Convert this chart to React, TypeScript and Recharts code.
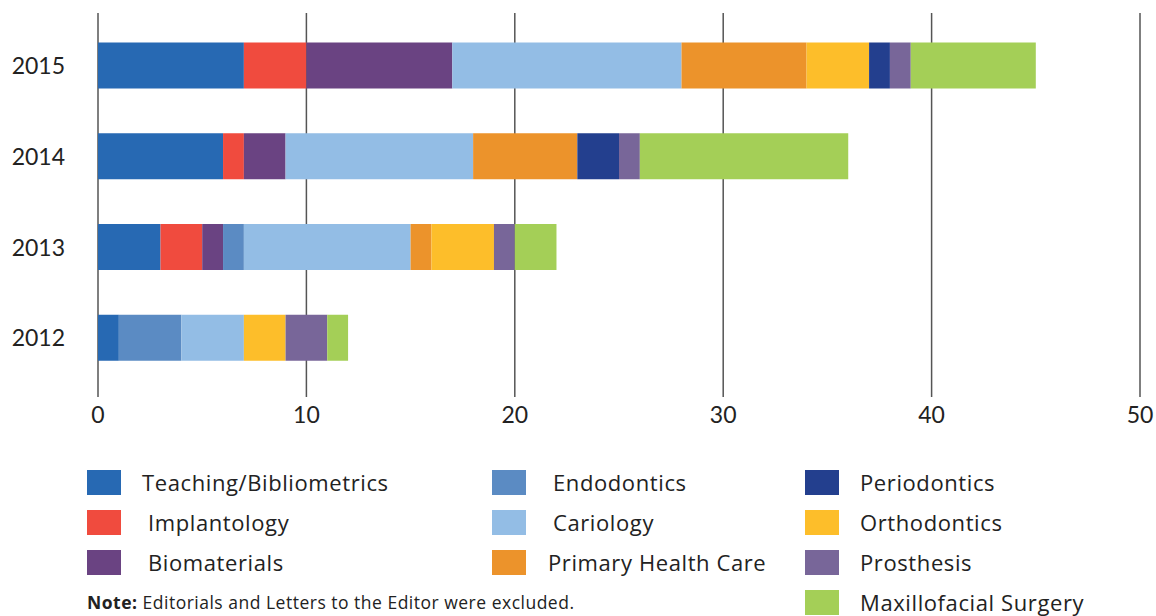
import { BarChart, Bar, XAxis, YAxis, CartesianGrid } from 'recharts'

const YEARS = ['2015', '2014', '2013', '2012']

// values per year, same order as YEARS
const TEACHING = [7, 6, 3, 1]
const IMPLANTOLOGY = [3, 1, 2, 0]
const BIOMATERIALS = [7, 2, 1, 0]
const ENDODONTICS = [0, 0, 1, 3]
const CARIOLOGY = [11, 9, 8, 3]
const PRIMARY_CARE = [6, 5, 1, 0]
const ORTHODONTICS = [3, 0, 3, 2]
const PERIODONTICS = [1, 2, 0, 0]
const PROSTHESIS = [1, 1, 1, 2]
const MAXILLOFACIAL = [6, 10, 2, 1]

const X_TICKS = [0, 10, 20, 30, 40, 50]

const SERIES = [
  { key: 'teaching', name: 'Teaching/Bibliometrics', values: TEACHING, color: '#2769B3' },
  { key: 'implantology', name: 'Implantology', values: IMPLANTOLOGY, color: '#F04B3E' },
  { key: 'biomaterials', name: 'Biomaterials', values: BIOMATERIALS, color: '#6A4382' },
  { key: 'endodontics', name: 'Endodontics', values: ENDODONTICS, color: '#5B8BC3' },
  { key: 'cariology', name: 'Cariology', values: CARIOLOGY, color: '#93BDE5' },
  { key: 'primary', name: 'Primary Health Care', values: PRIMARY_CARE, color: '#EC932B' },
  { key: 'orthodontics', name: 'Orthodontics', values: ORTHODONTICS, color: '#FDBE2A' },
  { key: 'periodontics', name: 'Periodontics', values: PERIODONTICS, color: '#233F8E' },
  { key: 'prosthesis', name: 'Prosthesis', values: PROSTHESIS, color: '#786699' },
  { key: 'maxillofacial', name: 'Maxillofacial Surgery', values: MAXILLOFACIAL, color: '#A4CF57' },
]

// legend columns as laid out in the figure
const LEGEND_COLUMNS = [
  { left: 87, textLeft: [142, 148, 148], keys: ['teaching', 'implantology', 'biomaterials'] },
  { left: 492, textLeft: [553, 553, 548], keys: ['endodontics', 'cariology', 'primary'] },
  { left: 805, textLeft: [860, 860, 860, 860], keys: ['periodontics', 'orthodontics', 'prosthesis', 'maxillofacial'] },
]

const data = YEARS.map((year, i) => {
  const row: Record<string, string | number> = { year }
  SERIES.forEach((s) => {
    row[s.key] = s.values[i]
  })
  return row
})

const FONT = 'Lato, "Open Sans", sans-serif'
const TEXT_FONT = '"Open Sans", sans-serif'

export default function App() {
  return (
    <div style={{ position: 'absolute', left: 0, top: 0, width: 1156, height: 616, background: '#fff', fontFamily: TEXT_FONT }}>
      <BarChart
        width={1156}
        height={442}
        data={data}
        layout="vertical"
        margin={{ top: 13, right: 16, left: 1, bottom: 0 }}
      >
        <CartesianGrid horizontal={false} stroke="#555" strokeWidth={1.5} />
        <XAxis
          type="number"
          domain={[0, 50]}
          ticks={X_TICKS}
          axisLine={false}
          tickLine={false}
          height={45}
          tickMargin={4}
          tick={{ fill: '#222', fontSize: 23, fontFamily: FONT }}
        />
        <YAxis
          type="category"
          dataKey="year"
          width={97}
          axisLine={false}
          tickLine={false}
          tickMargin={27}
          padding={{ top: 7.5, bottom: 13.5 }}
          tick={{ fill: '#222', fontSize: 23, fontFamily: FONT }}
        />
        {SERIES.map((s) => (
          <Bar key={s.key} dataKey={s.key} name={s.name} stackId="a" fill={s.color} barSize={46} isAnimationActive={false} />
        ))}
      </BarChart>
      {LEGEND_COLUMNS.map((col) =>
        col.keys.map((k, r) => {
          const s = SERIES.find((x) => x.key === k)!
          const top = 470 + r * 40
          return (
            <div key={k}>
              <div style={{ position: 'absolute', left: col.left, top, width: 34, height: 25, background: s.color }} />
              <div
                style={{
                  position: 'absolute',
                  left: col.textLeft[r],
                  top: top - 2,
                  fontSize: 22,
                  letterSpacing: 0.6,
                  lineHeight: '29px',
                  color: '#222',
                  whiteSpace: 'nowrap',
                }}
              >
                {s.name}
              </div>
            </div>
          )
        }),
      )}
      <div
        style={{
          position: 'absolute',
          left: 87,
          top: 590,
          fontSize: 17.5,
          letterSpacing: 0.5,
          color: '#222',
          whiteSpace: 'nowrap',
        }}
      >
        <b>Note:</b> Editorials and Letters to the Editor were excluded.
      </div>
    </div>
  )
}
